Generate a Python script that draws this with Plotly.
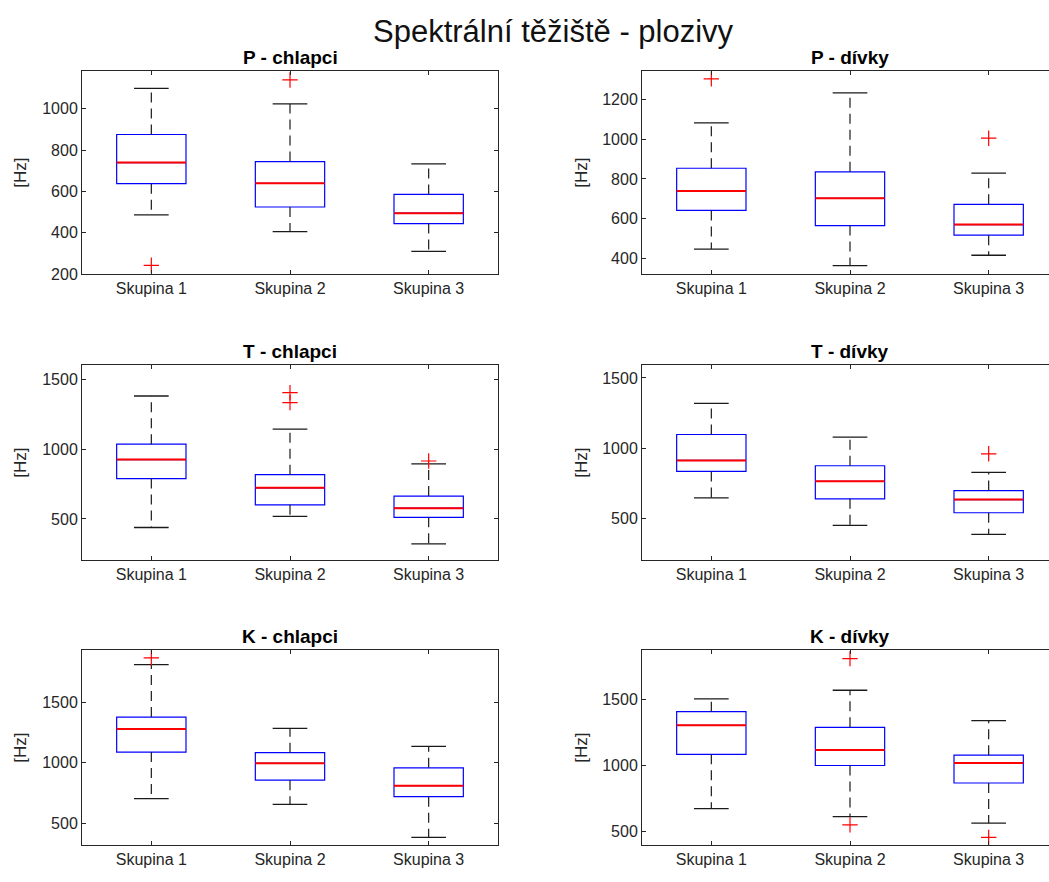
import plotly.graph_objects as go

# ---------------- data ----------------
categories = ["Skupina 1", "Skupina 2", "Skupina 3"]
main_title = "Spektrální těžiště - plozivy"
panel_titles = ["P - chlapci", "P - dívky", "T - chlapci", "T - dívky", "K - chlapci", "K - dívky"]
y_label = "[Hz]"

# P - chlapci
p_ch_lower = [487, 406, 310]
p_ch_q1 = [638, 525, 445]
p_ch_median = [740, 640, 495]
p_ch_q3 = [876, 745, 586]
p_ch_upper = [1099, 1024, 734]
p_ch_out_x = [1, 2]
p_ch_out_y = [243, 1140]

# P - dívky
p_d_lower = [448, 365, 417]
p_d_q1 = [642, 566, 518]
p_d_median = [740, 703, 571]
p_d_q3 = [854, 836, 673]
p_d_upper = [1082, 1233, 829]
p_d_out_x = [1, 3]
p_d_out_y = [1303, 1005]

# T - chlapci
t_ch_lower = [439, 519, 322]
t_ch_q1 = [789, 601, 512]
t_ch_median = [925, 723, 577]
t_ch_q3 = [1035, 817, 664]
t_ch_upper = [1380, 1143, 894]
t_ch_out_x = [2, 2, 3]
t_ch_out_y = [1404, 1333, 915]

# T - dívky
t_d_lower = [648, 453, 389]
t_d_q1 = [836, 641, 542]
t_d_median = [914, 766, 636]
t_d_q3 = [1098, 876, 700]
t_d_upper = [1319, 1079, 829]
t_d_out_x = [3]
t_d_out_y = [961]

# K - chlapci
k_ch_lower = [703, 656, 382]
k_ch_q1 = [1089, 856, 719]
k_ch_median = [1281, 996, 810]
k_ch_q3 = [1379, 1084, 958]
k_ch_upper = [1815, 1286, 1136]
k_ch_out_x = [1]
k_ch_out_y = [1870]

# K - dívky
k_d_lower = [675, 615, 565]
k_d_q1 = [1086, 1001, 869]
k_d_median = [1305, 1118, 1021]
k_d_q3 = [1408, 1290, 1079]
k_d_upper = [1505, 1570, 1340]
k_d_out_x = [2, 2, 3]
k_d_out_y = [1809, 552, 458]

y_ranges = [[200, 1182], [322, 1341], [205, 1600], [205, 1590], [316, 1933], [398, 1872]]
y_ticks = [[200, 400, 600, 800, 1000], [400, 600, 800, 1000, 1200],
           [500, 1000, 1500], [500, 1000, 1500], [500, 1000, 1500], [500, 1000, 1500]]

panels = [
    (p_ch_lower, p_ch_q1, p_ch_median, p_ch_q3, p_ch_upper, p_ch_out_x, p_ch_out_y),
    (p_d_lower, p_d_q1, p_d_median, p_d_q3, p_d_upper, p_d_out_x, p_d_out_y),
    (t_ch_lower, t_ch_q1, t_ch_median, t_ch_q3, t_ch_upper, t_ch_out_x, t_ch_out_y),
    (t_d_lower, t_d_q1, t_d_median, t_d_q3, t_d_upper, t_d_out_x, t_d_out_y),
    (k_ch_lower, k_ch_q1, k_ch_median, k_ch_q3, k_ch_upper, k_ch_out_x, k_ch_out_y),
    (k_d_lower, k_d_q1, k_d_median, k_d_q3, k_d_upper, k_d_out_x, k_d_out_y),
]

# ---------------- layout geometry ----------------
W, H = 1049, 882
col_x = [(82, 498), (642, 1049)]
col_xrange = [[0.5, 3.5], [0.5, 0.5 + 3 * (1049 - 642) / 416.0]]
col_center = [290, 850]
row_y = [(72, 277), (369, 566), (657, 854)]
ylab_x = [21, 582]

BOX_W = 0.5
CAP_W = 0.25
AX_COLOR = "#262626"
FONT = "Liberation Sans, Arial, Helvetica, sans-serif"
TICK_SIZE = 16

fig = go.Figure()
layout = dict(
    width=W, height=H, margin=dict(l=0, r=0, t=0, b=0),
    paper_bgcolor="white", plot_bgcolor="white", showlegend=False,
    font=dict(family=FONT, color=AX_COLOR, size=TICK_SIZE),
)
annotations = [dict(text=main_title, x=553 / W, y=1 - 32 / H, xref="paper", yref="paper",
                    showarrow=False, xanchor="center", yanchor="middle",
                    font=dict(size=31, color="#111111", family=FONT))]

for i, (lo, q1, med, q3, up, ox, oy) in enumerate(panels):
    r, c = divmod(i, 2)
    n = i + 1
    xa = "x" if n == 1 else f"x{n}"
    ya = "y" if n == 1 else f"y{n}"
    pos = [1, 2, 3]

    fig.add_trace(go.Box(
        x=pos, q1=q1, median=med, q3=q3, lowerfence=q1, upperfence=q3,
        width=BOX_W, whiskerwidth=0, boxpoints=False,
        line=dict(color="#0000ff", width=1.2), fillcolor="rgba(255,255,255,0)",
        xaxis=xa, yaxis=ya, hoverinfo="skip"))

    # whiskers (dashed)
    wx, wy = [], []
    for p, a, b, cc, d in zip(pos, q3, up, q1, lo):
        wx += [p, p, None, p, p, None]
        wy += [a, b, None, cc, d, None]
    fig.add_trace(go.Scatter(x=wx, y=wy, mode="lines",
                             line=dict(color="#1a1a1a", width=1.2, dash="10px,6px"),
                             xaxis=xa, yaxis=ya, hoverinfo="skip"))
    # caps
    cx, cy = [], []
    for p, a, b in zip(pos, up, lo):
        cx += [p - CAP_W / 2, p + CAP_W / 2, None, p - CAP_W / 2, p + CAP_W / 2, None]
        cy += [a, a, None, b, b, None]
    fig.add_trace(go.Scatter(x=cx, y=cy, mode="lines",
                             line=dict(color="#1a1a1a", width=1.3),
                             xaxis=xa, yaxis=ya, hoverinfo="skip"))
    # median
    mx, my = [], []
    for p, m in zip(pos, med):
        mx += [p - BOX_W / 2, p + BOX_W / 2, None]
        my += [m, m, None]
    fig.add_trace(go.Scatter(x=mx, y=my, mode="lines",
                             line=dict(color="#ff0000", width=2.0),
                             xaxis=xa, yaxis=ya, hoverinfo="skip"))
    # outliers
    fig.add_trace(go.Scatter(x=ox, y=oy, mode="markers",
                             marker=dict(symbol="cross-thin", size=11,
                                         line=dict(color="#ff0000", width=1.2)),
                             xaxis=xa, yaxis=ya, hoverinfo="skip"))

    x0, x1 = col_x[c]
    yt, yb = row_y[r]
    layout["xaxis" if n == 1 else f"xaxis{n}"] = dict(
        domain=[x0 / W, x1 / W], anchor=ya, range=col_xrange[c],
        tickvals=pos, ticktext=categories, ticks="inside", ticklen=4,
        tickcolor=AX_COLOR, showline=True, linecolor=AX_COLOR, linewidth=1,
        mirror="ticks", showgrid=False, zeroline=False,
        tickfont=dict(size=TICK_SIZE, color=AX_COLOR, family=FONT), fixedrange=True)
    layout["yaxis" if n == 1 else f"yaxis{n}"] = dict(
        domain=[1 - yb / H, 1 - yt / H], anchor=xa, range=y_ranges[i],
        tickvals=y_ticks[i], ticks="inside", ticklen=4, tickcolor=AX_COLOR,
        showline=True, linecolor=AX_COLOR, linewidth=1,
        mirror=("ticks" if c == 0 else False), showgrid=False, zeroline=False,
        tickfont=dict(size=TICK_SIZE, color=AX_COLOR, family=FONT), fixedrange=True)

    annotations.append(dict(text=f"<b>{panel_titles[i]}</b>", x=col_center[c] / W,
                            y=1 - (yt - 1) / H, xref="paper", yref="paper",
                            showarrow=False, xanchor="center", yanchor="bottom",
                            font=dict(size=19, color="black", family=FONT)))
    annotations.append(dict(text=y_label, x=ylab_x[c] / W, y=1 - ((yt + yb) / 2) / H,
                            xref="paper", yref="paper", showarrow=False, textangle=-90,
                            xanchor="center", yanchor="middle",
                            font=dict(size=17, color=AX_COLOR, family=FONT)))

layout["annotations"] = annotations
fig.update_layout(**layout)
fig.write_html("out.html")
